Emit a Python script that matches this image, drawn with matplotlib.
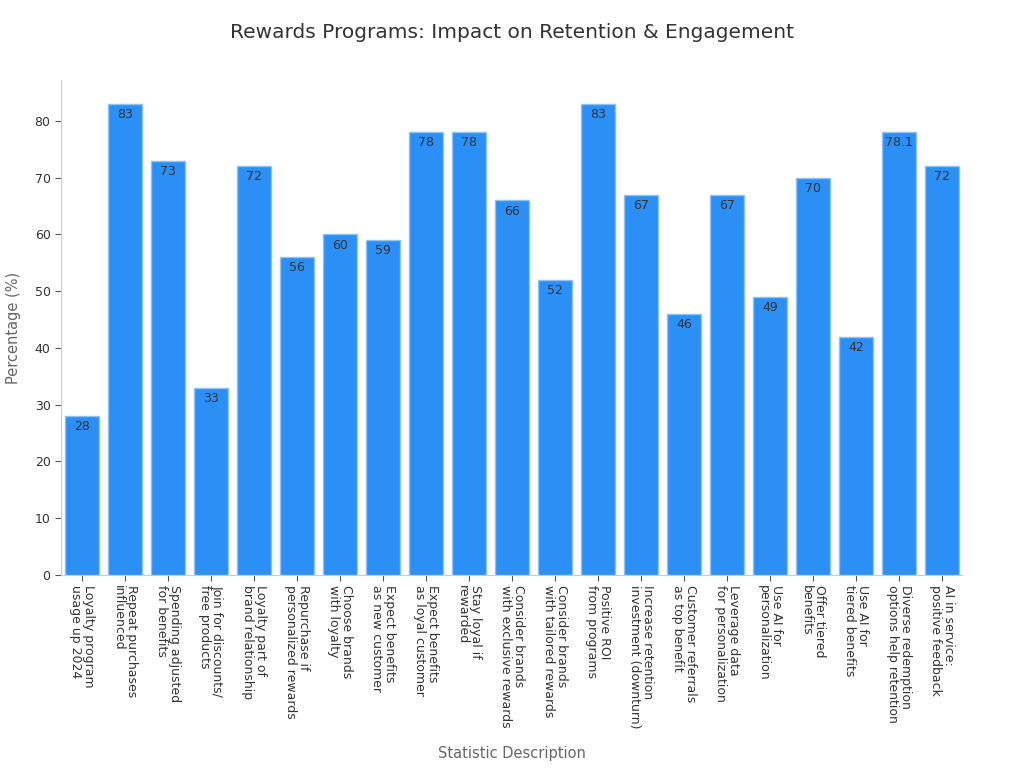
import matplotlib.pyplot as plt

# Chart data
labels = [
    "Loyalty program\nusage up 2024",
    "Repeat purchases\ninfluenced",
    "Spending adjusted\nfor benefits",
    "Join for discounts/\nfree products",
    "Loyalty part of\nbrand relationship",
    "Repurchase if\npersonalized rewards",
    "Choose brands\nwith loyalty",
    "Expect benefits\nas new customer",
    "Expect benefits\nas loyal customer",
    "Stay loyal if\nrewarded",
    "Consider brands\nwith exclusive rewards",
    "Consider brands\nwith tailored rewards",
    "Positive ROI\nfrom programs",
    "Increase retention\ninvestment (downturn)",
    "Customer referrals\nas top benefit",
    "Leverage data\nfor personalization",
    "Use AI for\npersonalization",
    "Offer tiered\nbenefits",
    "Use AI for\ntiered benefits",
    "Diverse redemption\noptions help retention",
    "AI in service:\npositive feedback",
]
values = [28, 83, 73, 33, 72, 56, 60, 59, 78, 78, 66, 52, 83, 67, 46, 67, 49, 70, 42, 78.1, 72]

BAR_COLOR = '#2b8ff5'
EDGE_COLOR = '#8cc4f8'
TEXT_COLOR = '#333333'
AXIS_COLOR = '#cccccc'

fig = plt.figure(figsize=(10.24, 7.68), dpi=100)
ax = fig.add_axes([0.0596, 0.2513, 0.8799, 0.6445])

x = range(len(values))
bars = ax.bar(x, values, width=0.8, color=BAR_COLOR, edgecolor=EDGE_COLOR, linewidth=1)

# Value labels just inside the top of each bar
for rect, v in zip(bars, values):
    ax.annotate(f"{v:g}", (rect.get_x() + rect.get_width() / 2, rect.get_height()),
                xytext=(0, -3), textcoords='offset points', ha='center', va='top',
                fontsize=9, color=TEXT_COLOR)

ax.set_xlim(-0.49, 20.47)
ax.set_ylim(0, 87.2)
ax.set_xticks(list(x))
ax.set_xticklabels(labels, rotation=-90, ha='center', va='top', fontsize=9, color=TEXT_COLOR,
                   linespacing=1.0, multialignment='left')
ax.set_yticks(range(0, 81, 10))
ax.tick_params(axis='y', labelsize=9, labelcolor=TEXT_COLOR, color='#555555', length=4)
ax.tick_params(axis='x', color='#555555', length=4)

for side in ['top', 'right']:
    ax.spines[side].set_visible(False)
for side in ['left', 'bottom']:
    ax.spines[side].set_color(AXIS_COLOR)

ax.set_ylabel("Percentage (%)", fontsize=10.5, color='#666666', labelpad=10)
ax.set_xlabel("Statistic Description", fontsize=10.5, color='#666666', labelpad=12)
fig.suptitle("Rewards Programs: Impact on Retention & Engagement", fontsize=14.5,
             color=TEXT_COLOR, y=0.97)

fig.savefig("out.png", dpi=100)
